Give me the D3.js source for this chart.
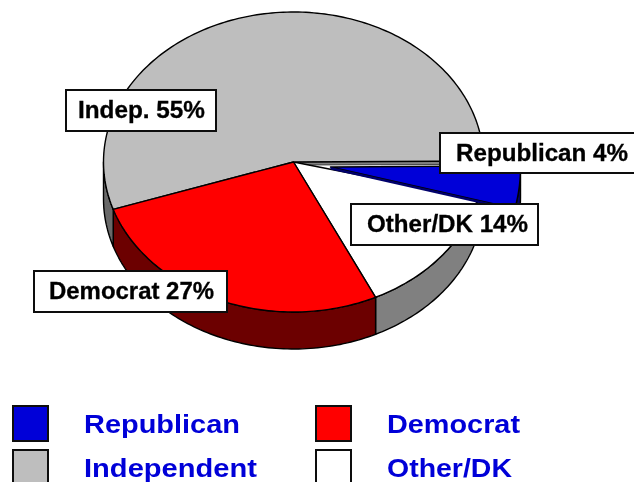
<!DOCTYPE html>
<html><head><meta charset="utf-8">
<script src="https://cdnjs.cloudflare.com/ajax/libs/d3/7.8.5/d3.min.js"></script>
<style>html,body{margin:0;padding:0;background:#fff}svg{display:block}</style>
</head><body><svg id="c" width="634" height="482"></svg>
<script>
const categories = ["Republican","Other/DK","Democrat","Independent"];
const shortNames = ["Republican","Other/DK","Democrat","Indep."];
const values = [4,14,27,55];
const legendOrder = ["Republican","Democrat","Independent","Other/DK"];
const topColors = ["#0000d8","#ffffff","#ff0000","#bebebe"];
const sideColors = ["#00006c","#808080","#6c0000","#696969"];

const W=634,H=482;
const rx=190, ry=150, depth=37, cx=293.5, cy=162;
const explode={Republican:{dx:37,dy:5,sy:1.15,d:30}};
const svg=d3.select("#c");
const defs=svg.append("defs");
defs.append("filter").attr("id","soft").attr("x","-5%").attr("y","-5%").attr("width","110%").attr("height","110%")
  .append("feGaussianBlur").attr("stdDeviation",0.55);
const root=svg.append("g").attr("filter","url(#soft)");
const color=d3.scaleOrdinal(categories,topColors);
const side=d3.scaleOrdinal(categories,sideColors);

const pie=d3.pie().value(d=>d.v).sort(null)
  .startAngle(89.6*Math.PI/180).endAngle((89.6+360)*Math.PI/180);
const slices=pie(categories.map((n,i)=>({n,v:values[i],s:shortNames[i]})));

const noOff={dx:0,dy:0,sy:1,d:depth};
function pt(a,d,off){ // a is a d3 pie angle (0 = 12 o'clock, clockwise)
  const o=off||noOff;
  return [cx+o.dx+rx*Math.sin(a), cy+o.dy-ry*o.sy*Math.cos(a)+(d||0)];
}
function arcPts(a0,a1,d,off){
  const n=Math.max(2,Math.ceil(Math.abs(a1-a0)/0.02));
  return d3.range(n+1).map(i=>pt(a0+(a1-a0)*i/n,d,off));
}
const line=d3.line();

function wall(s){
  const off=explode[s.data.n]||noOff;
  const a0=Math.max(s.startAngle,Math.PI/2), a1=Math.min(s.endAngle,Math.PI*1.5);
  if(a1<=a0) return null;
  return line(arcPts(a0,a1,0,off).concat(arcPts(a1,a0,off.d,off)))+"Z";
}
function face(s){
  const off=explode[s.data.n]||noOff;
  return line([[cx+off.dx,cy+off.dy]].concat(arcPts(s.startAngle,s.endAngle,0,off)))+"Z";
}

// Thin inner wall seen in the gap beside the exploded slice
const ind=slices[3], rep=slices[0];
root.append("path")
  .attr("d",line([[cx,cy],pt(ind.endAngle,0),pt(ind.endAngle,3.5),[cx,cy+3]])+"Z")
  .attr("fill","#808080").attr("stroke","#222").attr("stroke-width",0.8);

root.selectAll("path.wall").data(slices.filter(wall)).join("path").attr("class","wall")
  .attr("d",wall).attr("fill",d=>side(d.data.n)).attr("stroke","#000").attr("stroke-width",1.4).attr("stroke-linejoin","round");

const order=[slices[1],slices[3],slices[2],slices[0]];
root.selectAll("path.face").data(order).join("path").attr("class","face")
  .attr("d",face).attr("fill",d=>color(d.data.n)).attr("stroke","#000").attr("stroke-width",1.4).attr("stroke-linejoin","round");
root.append("path")
  .attr("d",()=>{const o=explode.Republican;
    return line([[cx+o.dx,cy+o.dy+2.5],pt(rep.endAngle,2.5,o),pt(rep.endAngle,0,o),[cx+o.dx,cy+o.dy]])+"Z";})
  .attr("fill","#00006c");

// Data labels
const labelBoxes={Independent:[66,90,150,41,78,127],Democrat:[34,271,193,41,49,165],Republican:[440,133,200,40,456,172],"Other/DK":[351,204,187,41,367,161]};
slices.forEach(s=>{
  const b=labelBoxes[s.data.n];
  root.append("rect").attr("x",b[0]).attr("y",b[1]).attr("width",b[2]).attr("height",b[3])
    .attr("fill","#fff").attr("stroke","#111").attr("stroke-width",2);
  root.append("text").attr("x",b[4]).attr("y",b[1]+27.5)
    .attr("textLength",b[5]).attr("lengthAdjust","spacingAndGlyphs")
    .attr("font-family","Liberation Sans, Arial, sans-serif").attr("font-weight",700).attr("font-size",23)
    .attr("fill","#000").attr("stroke","#000").attr("stroke-width",0.3).text(`${s.data.s} ${s.data.v}%`);
});

// Legend
const legX=d3.scalePoint().domain([0,1]).range([12,315]);
const legY=d3.scalePoint().domain([0,1]).range([405,449]);
const textLen={Republican:156,Democrat:133,Independent:173,"Other/DK":125};
legendOrder.forEach((n,i)=>{
  const col=i%2,row=Math.floor(i/2),x=legX(col),y=legY(row);
  root.append("rect").attr("x",x+1).attr("y",y+1).attr("width",35).attr("height",35)
    .attr("fill",color(n)).attr("stroke","#111").attr("stroke-width",2);
  root.append("text").attr("x",x+72).attr("y",y+28)
    .attr("textLength",textLen[n]).attr("lengthAdjust","spacingAndGlyphs")
    .attr("font-family","Liberation Sans, Arial, sans-serif").attr("font-weight",700).attr("font-size",26)
    .attr("fill","#0000d8").text(n);
});
</script></body></html>
